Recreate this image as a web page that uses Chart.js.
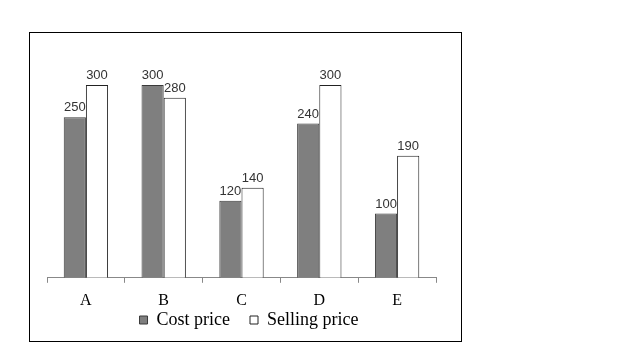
<!DOCTYPE html>
<html>
<head>
<meta charset="utf-8">
<script src="https://cdn.jsdelivr.net/npm/chart.js@4.4.1/dist/chart.umd.min.js"></script>
<style>
  body { margin: 0; background: #fff; width: 628px; height: 359px; position: relative; }
  #box { position: absolute; left: 29px; top: 32px; width: 431px; height: 308px; border: 1px solid #000; }
</style>
</head>
<body>
<div id="box"><canvas id="graf"></canvas></div>
<script>
// Data z grafu
const kategorie = ['A', 'B', 'C', 'D', 'E'];
const nakupniCena = [250, 300, 120, 240, 100];   // Cost price
const prodejniCena = [300, 280, 140, 300, 190];  // Selling price

// Popisky nad sloupci
const popiskyPlugin = {
  id: 'popisky',
  afterDatasetsDraw(chart) {
    const ctx = chart.ctx;
    ctx.save();
    ctx.font = '13px "Liberation Sans", Arial, sans-serif';
    ctx.fillStyle = '#333';
    ctx.textAlign = 'center';
    ctx.textBaseline = 'alphabetic';
    chart.data.datasets.forEach((ds, i) => {
      chart.getDatasetMeta(i).data.forEach((bar, j) => {
        ctx.fillText(ds.data[j], bar.x, bar.y - 6);
      });
    });
    ctx.restore();
  }
};

new Chart(document.getElementById('graf'), {
  type: 'bar',
  data: {
    labels: kategorie,
    datasets: [{
      label: 'Cost price',
      data: nakupniCena,
      backgroundColor: '#7f7f7f',
      borderColor: '#3a3a3a',
      borderWidth: 1,
      categoryPercentage: 0.57,
      barPercentage: 1.0
    }, {
      label: 'Selling price',
      data: prodejniCena,
      backgroundColor: '#ffffff',
      borderColor: '#222',
      borderWidth: 1,
      categoryPercentage: 0.57,
      barPercentage: 1.0
    }]
  },
  plugins: [popiskyPlugin],
  options: {
    responsive: true,
    maintainAspectRatio: false,
    animation: false,
    layout: { padding: { top: 52, left: 17, right: 10, bottom: 2 } },
    plugins: {
      tooltip: { enabled: false },
      legend: {
        position: 'bottom',
        // prázdný titulek se záporným odsazením zmenší horní mezeru legendy
        title: { display: true, text: '', font: { size: 10 }, padding: { top: -32, bottom: 0 } },
        labels: {
          boxWidth: 8,
          boxHeight: 8,
          padding: 20,
          color: '#000',
          font: { family: '"Liberation Serif", "Times New Roman", serif', size: 18 }
        }
      }
    },
    scales: {
      x: {
        border: { display: true, color: '#888', width: 1 },
        grid: { offset: true, drawOnChartArea: false, drawTicks: true, tickLength: 5, color: '#888' },
        ticks: {
          padding: 8,
          color: '#000',
          font: { family: '"Liberation Serif", "Times New Roman", serif', size: 16 }
        },
        afterFit(scale) { scale.height -= 7; }
      },
      y: {
        position: 'right',
        min: 0,
        max: 300,
        ticks: { display: false },
        grid: { display: false },
        border: { display: false },
        afterFit(scale) { scale.width = 15; }
      }
    }
  }
});
</script>
</body>
</html>
